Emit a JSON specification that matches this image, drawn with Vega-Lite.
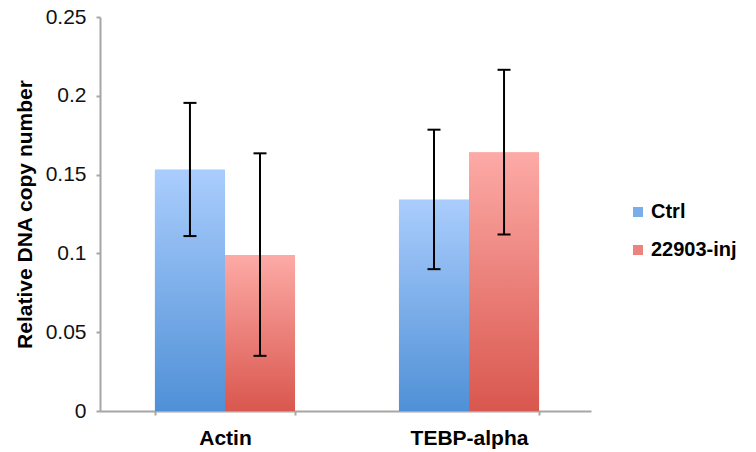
{
  "$schema": "https://vega.github.io/schema/vega-lite/v6.json",
  "width": 491,
  "height": 394,
  "autosize": "none",
  "padding": {"left": 100, "top": 17, "right": 165, "bottom": 41},
  "background": "white",
  "config": {"view": {"stroke": null}, "font": "Liberation Sans"},
  "data": {
    "values": [
      {"gene": "Actin", "group": "Ctrl", "value": 0.153, "lo": 0.111, "hi": 0.1955},
      {"gene": "Actin", "group": "22903-inj", "value": 0.099, "lo": 0.035, "hi": 0.1635},
      {"gene": "TEBP-alpha", "group": "Ctrl", "value": 0.134, "lo": 0.090, "hi": 0.1785},
      {"gene": "TEBP-alpha", "group": "22903-inj", "value": 0.164, "lo": 0.112, "hi": 0.2165}
    ]
  },
  "encoding": {
    "x": {
      "field": "gene",
      "type": "nominal",
      "sort": ["Actin", "TEBP-alpha"],
      "scale": {"paddingInner": 0.426, "paddingOuter": 0.219, "align": 0.514},
      "axis": {
        "title": null,
        "labelAngle": 0,
        "labelFontSize": 21,
        "labelFontWeight": "bold",
        "labelColor": "#000000",
        "labelPadding": 12,
        "domainColor": "#a6a6a6",
        "domainWidth": 2,
        "tickColor": "#a6a6a6",
        "tickWidth": 2,
        "tickSize": 4,
        "tickBand": "extent",
        "grid": false
      }
    },
    "xOffset": {
      "field": "group",
      "type": "nominal",
      "sort": ["Ctrl", "22903-inj"],
      "scale": {"paddingInner": 0, "paddingOuter": 0}
    }
  },
  "layer": [
    {
      "mark": {"type": "bar"},
      "encoding": {
        "y": {
          "field": "value",
          "type": "quantitative",
          "scale": {"domain": [0, 0.25], "nice": false},
          "axis": {
            "title": "Relative DNA copy number",
            "titleFontSize": 21,
            "titleFontWeight": "bold",
            "titleColor": "#000000",
            "titlePadding": 10,
            "values": [0, 0.05, 0.1, 0.15, 0.2, 0.25],
            "format": "~g",
            "labelFontSize": 21,
            "labelColor": "#111111",
            "labelPadding": 10,
            "domainColor": "#a6a6a6",
            "domainWidth": 2,
            "tickColor": "#a6a6a6",
            "tickWidth": 2,
            "tickSize": 4,
            "grid": false
          }
        },
        "color": {
          "field": "group",
          "type": "nominal",
          "scale": {"domain": ["Ctrl", "22903-inj"], "range": ["#7aaeea", "#ec837c"]},
          "legend": {
            "title": null,
            "orient": "none",
            "legendX": 528,
            "legendY": 185,
            "labelFontSize": 20,
            "labelFontWeight": "bold",
            "labelColor": "#000000",
            "symbolType": "square",
            "symbolSize": 100,
            "symbolStrokeWidth": 0,
            "rowPadding": 18,
            "labelOffset": 3
          }
        }
      }
    },
    {
      "mark": {"type": "bar"},
      "encoding": {
        "y": {"field": "value", "type": "quantitative"},
        "fill": {
          "condition": {
            "test": "datum.group === 'Ctrl'",
            "value": {"gradient": "linear", "x1": 0, "y1": 0, "x2": 0, "y2": 1, "stops": [{"offset": 0, "color": "#aacdfd"}, {"offset": 1, "color": "#4f90d6"}]}
          },
          "value": {"gradient": "linear", "x1": 0, "y1": 0, "x2": 0, "y2": 1, "stops": [{"offset": 0, "color": "#fdaaa6"}, {"offset": 1, "color": "#d9574e"}]}
        }
      }
    },
    {
      "mark": {"type": "rule", "color": "#000000", "strokeWidth": 2},
      "encoding": {
        "y": {"field": "lo", "type": "quantitative"},
        "y2": {"field": "hi"}
      }
    },
    {
      "mark": {"type": "tick", "color": "#000000", "thickness": 2, "size": 13, "orient": "horizontal", "opacity": 1},
      "encoding": {"y": {"field": "lo", "type": "quantitative"}}
    },
    {
      "mark": {"type": "tick", "color": "#000000", "thickness": 2, "size": 13, "orient": "horizontal", "opacity": 1},
      "encoding": {"y": {"field": "hi", "type": "quantitative"}}
    }
  ]
}
